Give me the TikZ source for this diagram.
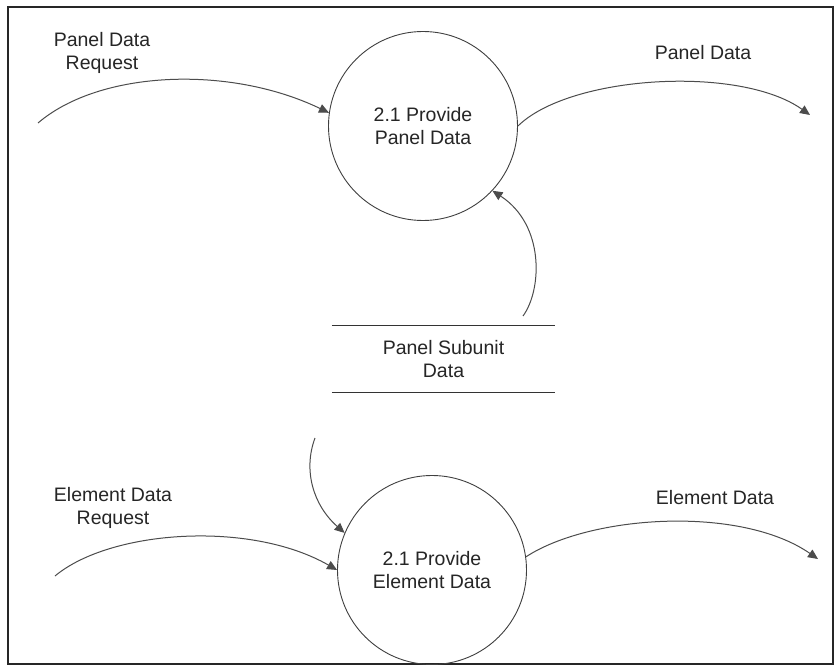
\documentclass[tikz,border=0pt]{standalone}
\usepackage{fontspec}
\setmainfont{Liberation Sans}
\usetikzlibrary{arrows.meta}

\tikzset{
  process/.style={circle, draw=black!75, line width=0.9pt, minimum size=189pt,
                  inner sep=0pt, align=center, text=black!85},
  flowlabel/.style={align=center, text=black!85, inner sep=0pt},
  storebox/.style={minimum width=223pt, minimum height=66pt, inner sep=0pt,
                   align=center, text=black!85},
  flow/.style={draw=black!70, line width=1pt,
               -{Triangle[length=10pt,width=9pt]}},
  storeline/.style={draw=black!80, line width=1.3pt}
}

\begin{document}
\begin{tikzpicture}[x=1pt, y=-1pt, font=\fontsize{19.5}{22.5}\selectfont]
  \useasboundingbox (0,0) rectangle (835,668);
  \fill[white] (0,0) rectangle (835,668);

  % outer frame
  \draw[black!85, line width=2pt] (8,7) rectangle (833,664);

  % processes
  \node[process] (p1) at (423,126) {2.1 Provide\\Panel Data};
  \node[process] (p2) at (432,570) {2.1 Provide\\Element Data};

  % data store
  \node[storebox] (store) at (443.5,359) {Panel Subunit\\Data};
  \draw[storeline] (store.north west) -- (store.north east);
  \draw[storeline] (store.south west) -- (store.south east);

  % labels on the flows
  \node[flowlabel] (lreq1) at (102,53) {Panel Data\\Request};
  \node[flowlabel] (lout1) at (703,53) {Panel Data};
  \node[flowlabel] (lreq2) at (113,508) {Element Data\\Request};
  \node[flowlabel] (lout2) at (715,498) {Element Data};

  % free ends of the flows
  \coordinate (in1) at (38,123);
  \coordinate (out1) at (810,115);
  \coordinate (in2) at (55,576);
  \coordinate (out2) at (818,559);
  \coordinate (fbup) at (523,316);
  \coordinate (fbdown) at (315,438);

  % flows
  \draw[flow] (in1) .. controls (100,70) and (230,65) .. (p1.172);
  \draw[flow] (p1.0) .. controls (570,75) and (740,65) .. (out1);
  \draw[flow] (in2) .. controls (110,530) and (250,520) .. (p2.180);
  \draw[flow] (p2.8) .. controls (590,515) and (740,505) .. (out2);
  \draw[flow] (fbup) .. controls (542,290) and (545,225) .. (p1.-43);
  \draw[flow] (fbdown) .. controls (303,470) and (313,505) .. (p2.157);
\end{tikzpicture}
\end{document}
